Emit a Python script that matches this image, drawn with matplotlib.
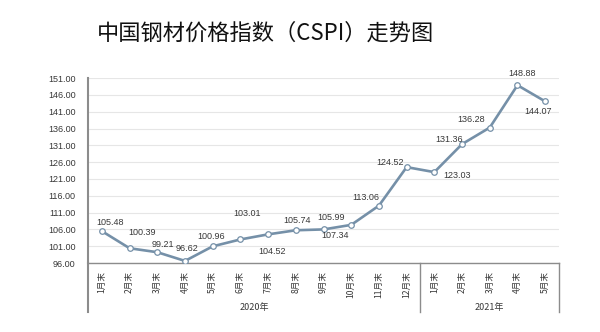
import matplotlib.pyplot as plt

plt.rcParams['font.family'] = ['Noto Sans CJK SC', 'DejaVu Sans']

# 月末钢材价格指数
months = ['1月末', '2月末', '3月末', '4月末', '5月末', '6月末', '7月末', '8月末', '9月末',
          '10月末', '11月末', '12月末', '1月末', '2月末', '3月末', '4月末', '5月末']
cspi = [105.48, 100.39, 99.21, 96.62, 100.96, 103.01, 104.52, 105.74, 105.99,
        107.34, 113.06, 124.52, 123.03, 131.36, 136.28, 148.88, 144.07]
years = ['2020年', '2021年']
year_counts = [12, 5]
yticks = [96, 101, 106, 111, 116, 121, 126, 131, 136, 141, 146, 151]

# 数据标签偏移（像素）
label_offsets = [(8, 9), (12, 16), (6, 8), (2, 12), (-2, 10), (7, 26), (4, -17), (1, 10),
                 (8, 12), (-16, -11), (-13, 8), (-17, 5), (23, -3), (-13, 5), (-19, 8),
                 (5, 12), (-7, -10)]

line_color = '#7590a8'
axis_color = '#8c8c8c'
text_color = '#383838'

fig = plt.figure(figsize=(6, 3.32), dpi=100)
ax = fig.add_axes([0.1467, 0.2078, 0.785, 0.557])

x = list(range(len(cspi)))
ax.plot(x, cspi, color=line_color, lw=1.9, marker='o', ms=4,
        mfc='white', mec=line_color, mew=0.9, zorder=3)

for xi, v, (dx, dy) in zip(x, cspi, label_offsets):
    ax.annotate(f'{v:.2f}', (xi, v), xytext=(dx, dy), textcoords='offset pixels',
                ha='center', va='center', fontsize=6.5, color=text_color,
                family='Liberation Sans')

ax.set_xlim(-0.5, len(cspi) - 0.5)
ax.set_ylim(96, 151)
ax.set_yticks(yticks)
ax.set_yticklabels([f'{t:.2f}' for t in yticks], family='Liberation Sans',
                   fontsize=6.5, color=text_color)
ax.yaxis.grid(True, color='#e6e6e6', lw=0.8)
ax.set_axisbelow(True)
ax.tick_params(axis='y', length=0, pad=9)

ax.set_xticks(x)
ax.set_xticklabels(months, rotation=90, fontsize=6.2, color=text_color, va='top')
ax.tick_params(axis='x', length=0, pad=6)

for s in ['top', 'right']:
    ax.spines[s].set_visible(False)
ax.spines['left'].set_color(axis_color)
ax.spines['left'].set_linewidth(1.5)
ax.spines['bottom'].set_color(axis_color)
ax.spines['bottom'].set_linewidth(1.0)

# 分组轴：年份分隔线与年份标签
tr = ax.get_xaxis_transform()
bottom = -0.265
ax.plot([-0.5, -0.5], [0, bottom], transform=tr, color=axis_color, lw=1.5, clip_on=False)
start = -0.5
for yr, n in zip(years, year_counts):
    end = start + n
    ax.plot([end, end], [0, bottom], transform=tr, color=axis_color, lw=1.0, clip_on=False)
    ax.text((start + end) / 2, -0.238, yr, transform=tr, ha='center', va='center',
            fontsize=6.5, color=text_color)
    start = end

fig.text(0.443, 0.9, '中国钢材价格指数（CSPI）走势图', ha='center', va='center',
         fontsize=16, color='#111111', fontweight='medium')

fig.savefig('out.png', dpi=100, facecolor='white')
